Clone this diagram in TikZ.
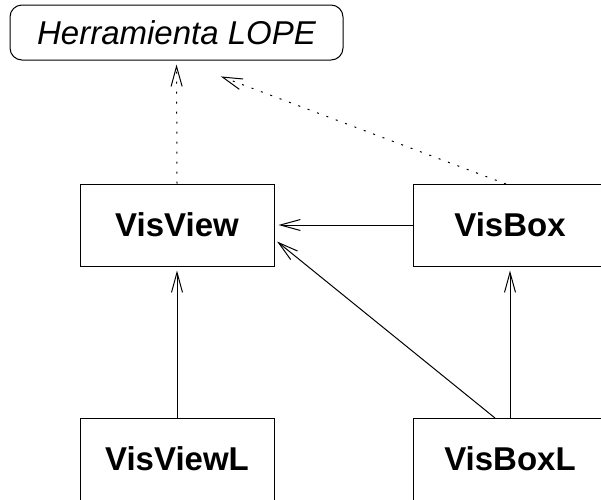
\documentclass[tikz,border=0pt]{standalone}
\usepackage{fontspec}
\setmainfont{Liberation Sans}
\usetikzlibrary{arrows.meta}

\tikzset{
    classbox/.style={draw, line width=1pt, minimum width=194pt, minimum height=82pt,
        inner sep=0pt, font=\fontsize{33}{38}\selectfont\bfseries},
    toolbox/.style={draw, line width=1pt, rounded corners=12pt, minimum width=333pt,
        minimum height=55pt, inner sep=0pt, font=\fontsize{33}{38}\selectfont\itshape},
    inherit/.style={line width=1pt, -{Straight Barb[length=20pt, width=11pt, line width=1pt]}, shorten >=4pt},
    uses/.style={inherit, dash pattern=on 2pt off 8pt}
}

\begin{document}
\begin{tikzpicture}[x=1pt, y=-1pt]
    \useasboundingbox (0,0) rectangle (601,499);

    % Tool on top
    \node[toolbox] (lope) at (176.5,32.5) {Herramienta LOPE};

    % Classes
    \node[classbox] (view) at (177,225) {VisView};
    \node[classbox] (box) at (510,225) {VisBox};
    \node[classbox] (viewl) at (177,459) {VisViewL};
    \node[classbox] (boxl) at (510,459) {VisBoxL};

    % Free ends of the two slanted connectors
    \coordinate (boxtop) at (506,184);
    \coordinate (boxlcorner) at (495,418);
    \coordinate (lopeside) at (217,75);
    \coordinate (viewside) at (274,239);

    % Inheritance
    \draw[inherit] (box.west) -- (view.east);
    \draw[inherit] (viewl.north) -- (view.south);
    \draw[inherit] (boxl.north) -- (box.south);
    \draw[inherit] (boxlcorner) -- (viewside);

    % Dotted links to the tool
    \draw[uses] (view.north) -- (lope.south);
    \draw[uses] (boxtop) -- (lopeside);

\end{tikzpicture}
\end{document}
